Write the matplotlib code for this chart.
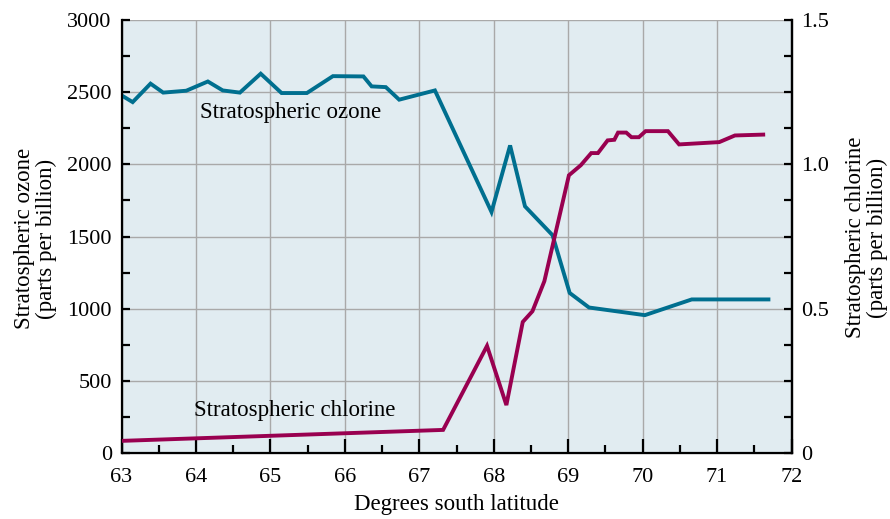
import matplotlib
matplotlib.use("Agg")
from matplotlib import pyplot as plt
from matplotlib.ticker import MultipleLocator, FuncFormatter

# ozone along the flight track (ppb)
ozone_lat = [63.0, 63.15, 63.39, 63.56, 63.87, 64.16, 64.36, 64.59, 64.87, 65.15,
             65.49, 65.84, 66.25, 66.36, 66.55, 66.73, 67.21, 67.97, 68.22, 68.42,
             68.79, 69.02, 69.28, 70.03, 70.66, 71.69]
ozone_ppb = [2478, 2431, 2559, 2497, 2510, 2574, 2512, 2497, 2628, 2494,
             2494, 2611, 2609, 2540, 2535, 2448, 2512, 1670, 2131, 1709,
             1509, 1109, 1008, 955, 1064, 1064]

# chlorine along the same track (ppb)
chlor_lat = [63.0, 67.32, 67.91, 68.17, 68.39, 68.52, 68.68, 69.01, 69.17, 69.31,
             69.40, 69.53, 69.62, 69.67, 69.78, 69.85, 69.95, 70.04, 70.34, 70.49,
             71.03, 71.24, 71.62]
chlor_ppb = [0.042, 0.080, 0.371, 0.166, 0.454, 0.491, 0.595, 0.962, 0.997, 1.039,
             1.039, 1.083, 1.085, 1.110, 1.110, 1.094, 1.094, 1.115, 1.115, 1.069,
             1.077, 1.100, 1.103]

OZONE = '#006f8f'
CHLOR = '#990050'
BG = '#e1ecf1'

plt.rcParams['font.family'] = ['Liberation Serif', 'DejaVu Serif']

fig = plt.figure(figsize=(8.9, 5.19), dpi=100)
ax = fig.add_axes([121.5 / 890, 1 - 453 / 519, 670 / 890, 433 / 519])
ax.set_facecolor(BG)

ax.plot(ozone_lat, ozone_ppb, color=OZONE, lw=2.8, solid_joinstyle='miter', zorder=3)
ax.set_xlim(63, 72)
ax.set_ylim(0, 3000)

ax.xaxis.set_major_locator(MultipleLocator(1))
ax.xaxis.set_minor_locator(MultipleLocator(0.5))
ax.yaxis.set_major_locator(MultipleLocator(500))
ax.yaxis.set_minor_locator(MultipleLocator(250))
ax.grid(True, which='major', color='#a9a9a9', lw=1.0)
ax.set_axisbelow(True)

ax.tick_params(axis='x', which='major', direction='in', length=10, width=1.6,
               labelsize=16, pad=11)
ax.tick_params(axis='x', which='minor', direction='in', length=6, width=1.6)
ax.tick_params(axis='y', which='both', direction='in', length=6, width=1.6,
               labelsize=16, pad=7)

for side in ['left', 'bottom', 'right']:
    ax.spines[side].set_linewidth(1.6)
ax.spines['top'].set_visible(False)

ax.set_xlabel('Degrees south latitude', fontsize=16.5, labelpad=5)
ax.set_ylabel('Stratospheric ozone\n(parts per billion)', fontsize=16.5,
              linespacing=1.05)
ax.yaxis.set_label_coords(-0.096, 0.495)

ax2 = ax.twinx()
ax2.plot(chlor_lat, chlor_ppb, color=CHLOR, lw=2.8, solid_joinstyle='miter', zorder=3)
ax2.set_ylim(0, 1.5)
ax2.yaxis.set_major_locator(MultipleLocator(0.5))
ax2.yaxis.set_minor_locator(MultipleLocator(0.125))
ax2.yaxis.set_major_formatter(FuncFormatter(lambda v, p: '0' if v == 0 else '%.1f' % v))
ax2.tick_params(axis='y', which='both', direction='in', length=6, width=1.6,
                labelsize=16, pad=7)
ax2.spines['top'].set_visible(False)
ax2.spines['right'].set_linewidth(1.6)
ax2.set_ylabel('Stratospheric chlorine\n(parts per billion)', fontsize=16.5,
               linespacing=1.05, rotation=90)
ax2.yaxis.set_label_coords(1.080, 0.497)

ax.text(64.06, 2360, 'Stratospheric ozone', fontsize=16.5, va='center', ha='left')
ax.text(63.98, 291, 'Stratospheric chlorine', fontsize=16.5, va='center', ha='left')

fig.savefig('out.png', dpi=100)
